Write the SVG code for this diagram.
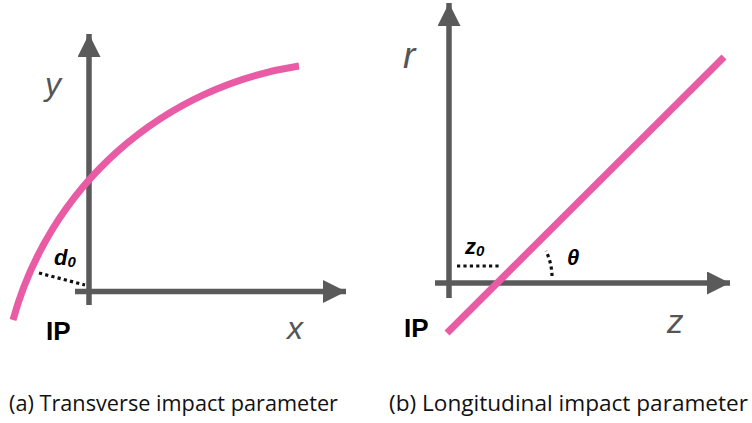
<svg xmlns="http://www.w3.org/2000/svg" width="752" height="423" viewBox="0 0 752 423">
  <style>
    .axis { stroke: #5a5a5a; stroke-width: 5.5; fill: none; }
    .track { stroke: #e95ba5; stroke-width: 7; fill: none; }
    .dots { stroke: #111; stroke-width: 3.2; stroke-dasharray: 3.2 3.2; fill: none; }
    .axlbl { font-family: "Liberation Sans", Arial, sans-serif; font-style: italic; fill: #555; }
    .ip { font-family: "Liberation Sans", Arial, sans-serif; font-weight: bold; font-size: 26px; fill: #000; }
    .sym { font-family: "Liberation Sans", Arial, sans-serif; font-weight: bold; font-style: italic; font-size: 22px; fill: #000; }
    .cap { font-family: "Open Sans", Lato, sans-serif; font-size: 21.5px; fill: #111; }
  </style>
  <defs>
    <marker id="arrow" markerUnits="userSpaceOnUse" viewBox="0 0 23 23" markerWidth="23" markerHeight="23" refX="23" refY="11.5" orient="auto">
      <path d="M0,0 L23,11.5 L0,23 z" fill="#5a5a5a"/>
    </marker>
  </defs>

  <g id="connectors">
    <line id="axis-y" class="axis" x1="89" y1="305" x2="89" y2="34" marker-end="url(#arrow)"/>
    <line id="axis-x" class="axis" x1="75" y1="291.5" x2="346" y2="291.5" marker-end="url(#arrow)"/>
    <line id="axis-r" class="axis" x1="449" y1="298" x2="449" y2="3" marker-end="url(#arrow)"/>
    <line id="axis-z" class="axis" x1="435" y1="283" x2="730" y2="283" marker-end="url(#arrow)"/>
    <path id="track-a" class="track" d="M13,320 A351,351 0 0 1 299,66"/>
    <line id="track-b" class="track" x1="447" y1="333" x2="724" y2="57"/>
    <line id="d0-line" class="dots" x1="39" y1="273" x2="85" y2="285"/>
    <line id="z0-line" class="dots" x1="457" y1="266" x2="500" y2="266"/>
    <path id="theta-arc" class="dots" d="M552,276 A60,60 0 0 0 546,251"/>
  </g>

  <g id="label-y"><text class="axlbl" x="45" y="95" font-size="32">y</text></g>
  <g id="label-x"><text class="axlbl" x="287" y="339" font-size="32">x</text></g>
  <g id="label-r"><text class="axlbl" x="403" y="68" font-size="37">r</text></g>
  <g id="label-z"><text class="axlbl" x="667" y="333" font-size="33">z</text></g>

  <g id="ip-a"><text class="ip" x="46" y="340">IP</text></g>
  <g id="ip-b"><text class="ip" x="404" y="337">IP</text></g>

  <g id="label-d0"><text class="sym" x="54" y="265">d<tspan font-size="15" dy="2">0</tspan></text></g>
  <g id="label-z0"><text class="sym" x="465" y="254">z<tspan font-size="15" dy="2">0</tspan></text></g>
  <g id="label-theta"><text class="sym" x="567" y="265" font-size="23">θ</text></g>

  <g id="caption-a"><text class="cap" x="9" y="411" textLength="329" lengthAdjust="spacingAndGlyphs">(a) Transverse impact parameter</text></g>
  <g id="caption-b"><text class="cap" x="389" y="411" textLength="359" lengthAdjust="spacingAndGlyphs">(b) Longitudinal impact parameter</text></g>
</svg>
